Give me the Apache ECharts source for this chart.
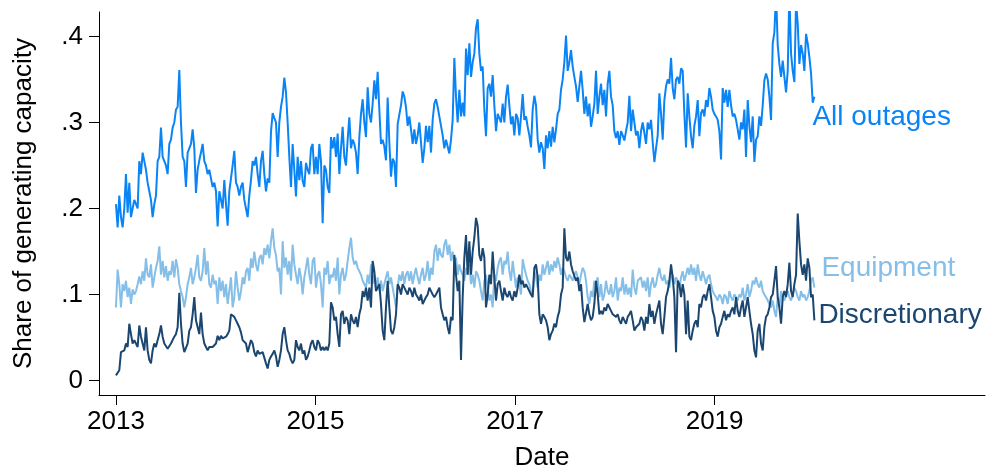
<!DOCTYPE html>
<html><head><meta charset="utf-8">
<script src="https://cdn.jsdelivr.net/npm/echarts@6/dist/echarts.min.js"></script>
<style>html,body{margin:0;padding:0;background:#fff}#c{width:987px;height:476px}</style>
</head><body><div id="c"></div>
<script>
// Sampling grid: evenly spaced observations (~every 6 days) from start of 2013 to end of 2019
const START_YEAR = 2013, END_YEAR = 2020;

const allOutages = [
.205,.178,.215,.19,.178,.20,.24,.195,.23,.19,
.20,.21,.205,.20,.255,.24,.265,.255,.245,.23,
.22,.21,.19,.205,.215,.255,.26,.294,.26,.255,
.25,.24,.275,.28,.294,.30,.315,.318,.361,.30,
.26,.255,.225,.265,.27,.275,.292,.27,.218,.245,
.256,.265,.275,.255,.25,.24,.245,.235,.225,.23,
.22,.179,.22,.22,.20,.233,.205,.18,.22,.235,
.25,.267,.23,.225,.215,.225,.23,.21,.20,.19,
.215,.233,.255,.25,.26,.24,.225,.255,.267,.24,
.22,.235,.23,.289,.311,.305,.30,.26,
.30,.318,.33,.352,.335,.30,.26,.225,.275,.245,
.214,.26,.233,.255,.232,.225,.253,.245,.24,.27,
.275,.24,.26,.24,.275,.255,.183,.25,.245,.225,
.218,.283,.27,.283,.26,.287,.24,.27,.295,.26,
.25,.28,.306,.27,.28,.275,.265,.24,.283,.31,
.327,.30,.283,.341,.31,.30,.322,.349,.327,.359,
.315,.275,.28,.272,.256,.329,.277,.237,.258,.254,
.225,.298,.30,.32,.336,.33,.318,.296,.307,.292,
.275,.292,.275,.285,.30,.277,.253,.27,.296,.277,
.296,.265,.303,.322,.327,.318,.32,.296,.285,.27,
.28,.279,.264,.28,.303,.375,.33,.30,
.338,.307,.323,.307,.386,.355,.392,.353,.37,.38,
.41,.42,.38,.36,.365,.315,.284,.34,.345,.33,
.355,.32,.29,.31,.31,.30,.322,.30,.33,.344,
.32,.298,.307,.285,.31,.305,.285,.307,.333,.303,
.307,.295,.285,.271,.315,.331,.32,.28,.265,.277,
.27,.246,.285,.27,.29,.272,.295,.277,.292,.31,
.315,.338,.35,.37,.401,.36,.37,.384,.365,.353,
.342,.324,.342,.36,.338,.31,.33,.307,.322,.295,
.307,.322,.36,.31,.33,.345,.32,.338,.307,.345,
.36,.33,.32,.29,.282,.29,.274,.29,.285,.279,
.29,.30,.331,.29,.315,.30,.285,.29,
.27,.29,.30,.288,.275,.30,.292,.303,.277,.254,
.27,.285,.334,.31,.28,.326,.342,.35,.345,.375,
.34,.327,.35,.353,.345,.363,.36,.31,.271,.334,
.307,.284,.27,.296,.307,.326,.284,.311,.315,.307,
.326,.318,.34,.33,.315,.31,.307,.303,.29,.257,
.34,.323,.338,.318,.338,.32,.307,.31,.303,.292,
.28,.30,.292,.315,.26,.326,.296,.277,.307,.254,
.28,.284,.307,.296,.32,.349,.357,.35,.33,.303,
.392,.405,.45,.39,.368,.353,.372,.353,.335,.36,
.45,.38,.36,.347,.44,.415,.368,.39,.38,.36,
.403,.392,.376,.357,.323,.33
];

const equipment = [
.085,.129,.112,.085,.112,.104,.116,.097,.108,.089,
.106,.100,.104,.112,.121,.112,.127,.116,.142,.123,
.120,.135,.108,.120,.131,.139,.156,.123,.139,.120,
.133,.116,.127,.123,.139,.120,.141,.131,.112,.104,
.097,.085,.097,.112,.120,.131,.112,.120,.131,.146,
.120,.116,.127,.154,.123,.139,.112,.108,.123,.112,
.116,.089,.120,.104,.116,.097,.112,.089,.104,.120,
.085,.097,.127,.108,.093,.104,.120,.112,.127,.131,
.116,.142,.131,.150,.135,.127,.142,.146,.135,.154,
.146,.158,.142,.162,.177,.154,.146,.127,
.131,.100,.162,.131,.143,.123,.139,.116,.158,.135,
.123,.112,.131,.120,.100,.120,.131,.143,.123,.112,
.139,.143,.108,.123,.127,.112,.085,.131,.123,.139,
.112,.123,.120,.131,.116,.143,.100,.123,.131,.116,
.123,.139,.154,.166,.143,.135,.139,.131,.127,.123,
.116,.112,.108,.123,.112,.135,.112,.123,.108,.120,
.104,.116,.104,.112,.120,.127,.112,.120,.108,.097,
.085,.108,.123,.116,.127,.112,.123,.127,.116,.127,
.112,.123,.131,.120,.112,.123,.131,.116,.123,.139,
.116,.131,.123,.150,.158,.139,.154,.146,.143,.158,
.164,.146,.158,.139,.150,.135,.143,.123,
.135,.127,.123,.116,.131,.123,.135,.112,.123,.108,
.127,.123,.116,.104,.093,.116,.123,.108,.093,.100,
.085,.123,.116,.131,.139,.143,.123,.139,.135,.150,
.127,.116,.139,.123,.108,.120,.112,.100,.141,.131,
.123,.116,.112,.104,.100,.127,.120,.108,.123,.116,
.135,.123,.131,.139,.123,.135,.127,.139,.131,.143,
.135,.123,.131,.127,.120,.116,.123,.120,.116,.123,
.127,.120,.112,.123,.131,.127,.116,.097,.089,.104,
.097,.116,.112,.120,.097,.112,.093,.100,.116,.104,
.100,.112,.097,.104,.120,.093,.108,.104,.120,.100,
.112,.100,.108,.097,.129,.108,.100,.116,
.116,.120,.108,.116,.104,.120,.097,.112,.120,.108,
.112,.123,.131,.120,.116,.123,.112,.116,.108,.120,
.123,.112,.120,.116,.108,.120,.127,.116,.123,.131,
.123,.135,.123,.131,.116,.135,.123,.116,.127,.120,
.112,.120,.123,.112,.104,.100,.097,.093,.100,.097,
.089,.100,.097,.089,.104,.097,.093,.100,.097,.093,
.100,.097,.108,.093,.100,.112,.097,.104,.116,.112,
.120,.112,.108,.116,.104,.100,.097,.093,.089,.085,
.093,.081,.074,.097,.085,.104,.097,.093,.100,.104,
.097,.093,.100,.108,.104,.097,.093,.104,.097,.100,
.093,.097,.104,.116,.120,.108
];

const discretionary = [
.006,.008,.012,.033,.031,.035,.043,.039,.066,.054,
.043,.047,.043,.039,.064,.051,.043,.035,.062,.035,
.024,.020,.035,.043,.039,.047,.054,.064,.051,.043,
.043,.037,.035,.043,.045,.051,.054,.062,.102,.066,
.043,.033,.031,.043,.058,.062,.077,.097,.070,.062,
.054,.079,.054,.043,.039,.035,.039,.037,.039,.037,
.043,.052,.047,.052,.049,.051,.051,.054,.058,.077,
.079,.074,.070,.066,.062,.056,.047,.047,.043,.033,
.035,.047,.043,.033,.028,.035,.031,.030,.033,.031,
.020,.014,.024,.028,.031,.035,.028,.016,
.024,.035,.054,.062,.047,.035,.031,.024,.020,.024,
.047,.039,.035,.043,.031,.035,.024,.028,.035,.043,
.047,.039,.035,.047,.043,.035,.039,.035,.039,.035,
.043,.091,.085,.070,.074,.054,.039,.077,.081,.066,
.074,.070,.054,.077,.070,.066,.074,.062,.077,.085,
.104,.097,.108,.093,.108,.085,.139,.127,.104,.108,
.112,.089,.058,.047,.085,.116,.085,.058,.054,.062,
.077,.112,.108,.100,.112,.108,.104,.100,.108,.104,
.097,.108,.100,.097,.093,.100,.089,.093,.097,.100,
.108,.104,.100,.097,.100,.104,.108,.085,.077,.070,
.074,.062,.054,.074,.070,.146,.123,.104,
.116,.024,.097,.143,.169,.123,.162,.123,.150,.166,
.189,.180,.146,.139,.154,.143,.085,.100,.123,.112,
.150,.120,.093,.112,.116,.104,.093,.108,.100,.097,
.104,.097,.093,.104,.097,.108,.123,.112,.116,.108,
.112,.108,.104,.100,.097,.131,.135,.120,.077,.066,
.077,.074,.070,.062,.047,.054,.058,.066,.062,.074,
.081,.100,.108,.177,.143,.139,.150,.135,.127,.127,
.116,.120,.104,.112,.085,.068,.070,.089,.077,.070,
.074,.089,.116,.100,.077,.081,.077,.085,.081,.089,
.091,.081,.077,.077,.074,.077,.070,.066,.074,.070,
.066,.074,.077,.081,.070,.058,.062,.062,
.066,.074,.070,.058,.074,.066,.089,.074,.081,.066,
.077,.085,.093,.066,.054,.074,.097,.104,.116,.135,
.120,.097,.033,.116,.112,.097,.112,.100,.054,.093,
.051,.047,.058,.066,.070,.062,.089,.085,.097,.100,
.093,.104,.112,.097,.081,.074,.058,.051,.062,.066,
.074,.081,.070,.077,.074,.081,.085,.077,.097,.081,
.074,.085,.093,.074,.085,.097,.081,.066,.054,.035,
.027,.058,.066,.043,.035,.062,.074,.077,.085,.097,
.100,.116,.133,.097,.085,.066,.097,.104,.097,.112,
.137,.104,.097,.112,.123,.194,.162,.135,.123,.135,
.116,.142,.131,.097,.100,.070
];

const seriesNames = ['All outages', 'Equipment', 'Discretionary'];
const xTicks = [2013, 2015, 2017, 2019];
const yTicks = [0, 0.1, 0.2, 0.3, 0.4];

function withDates(vals) {
  const n = vals.length;
  return vals.map((v, i) => [START_YEAR + i * (END_YEAR - START_YEAR) / (n - 1), v]);
}

const FONT = "'Liberation Sans', Arial, sans-serif";
const chart = echarts.init(document.getElementById('c'), null, {renderer: 'canvas'});

function lineSeries(name, vals, color, labelOffset) {
  return {
    name: name, type: 'line', data: withDates(vals),
    showSymbol: false, symbol: 'none', clip: true,
    lineStyle: {color: color, width: 2},
    itemStyle: {color: color},
    endLabel: {show: true, formatter: '{a}', color: color, fontSize: 28,
      fontFamily: FONT, offset: labelOffset, distance: 4},
    emphasis: {disabled: true}
  };
}

chart.setOption({
  animation: false,
  backgroundColor: '#fff',
  textStyle: {fontFamily: FONT},
  grid: {left: 99, right: 2, top: 12, bottom: 77, containLabel: false},
  xAxis: {
    type: 'value', min: 2012.83, max: 2021.71,
    name: 'Date', nameLocation: 'middle', nameGap: 50,
    nameTextStyle: {color: '#000', fontSize: 26, fontFamily: FONT},
    axisLine: {show: true, onZero: false, lineStyle: {color: '#000', width: 1}},
    axisTick: {show: true, customValues: xTicks, length: 10, lineStyle: {color: '#000'}},
    axisLabel: {customValues: xTicks, color: '#000', fontSize: 26, fontFamily: FONT, margin: 14,
      formatter: v => String(v)},
    splitLine: {show: false}
  },
  yAxis: {
    type: 'value', min: -0.0168, max: 0.4284,
    name: 'Share of generating capacity', nameLocation: 'middle', nameGap: 62, nameRotate: 90,
    nameTextStyle: {color: '#000', fontSize: 26, fontFamily: FONT},
    axisLine: {show: true, onZero: false, lineStyle: {color: '#000', width: 1}},
    axisTick: {show: true, customValues: yTicks, length: 10, lineStyle: {color: '#000'}},
    axisLabel: {customValues: yTicks, color: '#000', fontSize: 26, fontFamily: FONT, margin: 16,
      formatter: v => v === 0 ? '0' : ('.' + Math.round(v * 10))},
    splitLine: {show: false}
  },
  series: [
    lineSeries(seriesNames[0], allOutages, '#0a84f5', [-6, 21]),
    lineSeries(seriesNames[1], equipment, '#85bfe8', [3, -19]),
    lineSeries(seriesNames[2], discretionary, '#1a4670', [0, -5])
  ]
});
</script>
</body></html>
